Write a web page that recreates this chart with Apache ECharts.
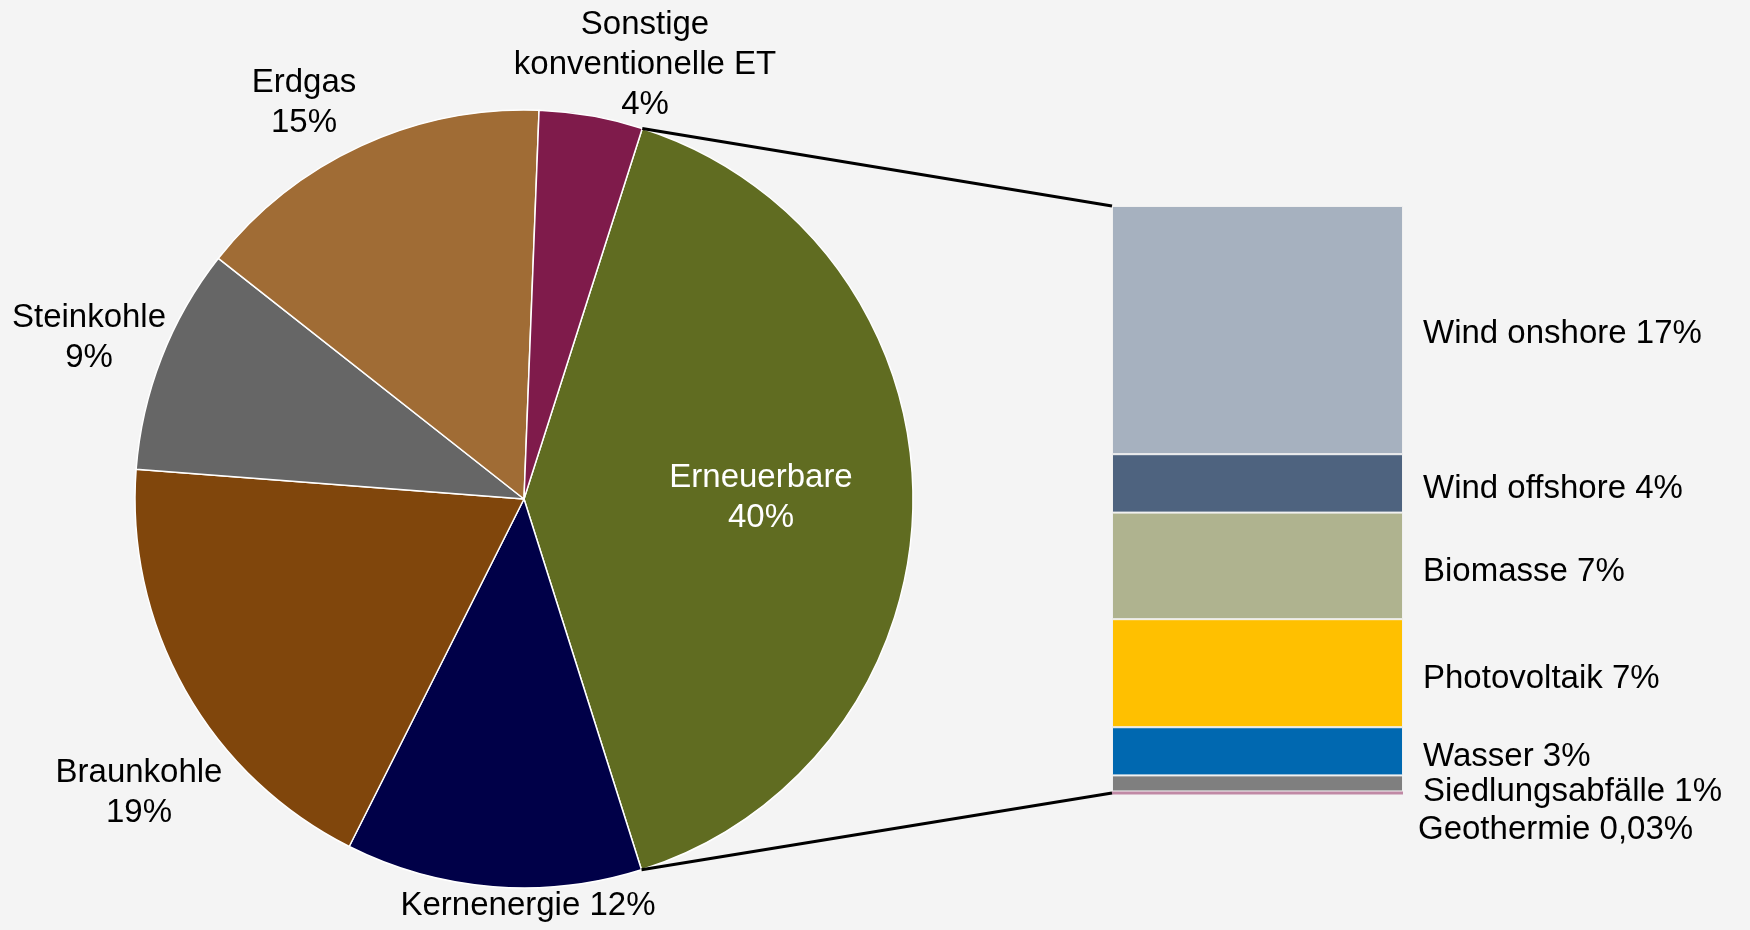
<!DOCTYPE html>
<html>
<head>
<meta charset="utf-8">
<script src="https://cdn.jsdelivr.net/npm/echarts@6/dist/echarts.min.js"></script>
<style>
html, body { margin: 0; padding: 0; background: #f4f4f4; }
#main { width: 1750px; height: 930px; }
</style>
</head>
<body>
<div id="main"></div>
<script>
// Stromerzeugung: Anteile
const pieNames = ['Erneuerbare', 'Kernenergie', 'Braunkohle', 'Steinkohle', 'Erdgas', 'Sonstige\nkonventionelle ET'];
const pieValues = [40.2, 12.3, 18.8, 9.4, 15.0, 4.3];
const pieColors = ['#606c21', '#000048', '#80460c', '#666666', '#a06c35', '#7f1b4b'];

// Aufteilung der Erneuerbaren
const eeNames = ['Wind onshore', 'Wind offshore', 'Biomasse', 'Photovoltaik', 'Wasser', 'Siedlungsabfälle', 'Geothermie'];
const eeValues = [17.0, 4.0, 7.3, 7.4, 3.3, 1.1, 0.03];
const eeColors = ['#a6b1bf', '#4e637f', '#afb38f', '#ffc000', '#0068b0', '#7f7f7f', '#c089a5'];

const chart = echarts.init(document.getElementById('main'));
const font = "'Liberation Sans', Arial, sans-serif";

const pieCenter = [524, 499], pieRadius = 389, pieStart = 72.3;
const barLeft = 1112, barWidth = 291, barTop = 206, pxPerPct = 14.6;
const eeTotal = eeValues.reduce((a, b) => a + b, 0);

// Label spots for the pie (layout only)
const pieLabelSpots = {
    'Erneuerbare': [761, 498],
    'Kernenergie': [528, 906],
    'Braunkohle': [139, 793],
    'Steinkohle': [89, 338],
    'Erdgas': [304, 103],
    'Sonstige\nkonventionelle ET': [645, 65]
};
const barLabelOffsets = {'Wind onshore': 4, 'Siedlungsabfälle': 8, 'Geothermie': 37};

function pct(v) {
    return v >= 0.5 ? Math.round(v) + '%' : String(v).replace('.', ',') + '%';
}

const barSeries = eeNames.map((name, i) => {
    const last = i === eeNames.length - 1;
    return {
        name: name,
        type: 'bar',
        stack: 'ee',
        barWidth: '100%',
        clip: false,
        barMinHeight: last ? 3 : 0,
        data: [eeValues[i]],
        itemStyle: {color: eeColors[i], borderColor: '#f0f0f0', borderWidth: last ? 0 : 1},
        label: {
            show: true,
            position: 'right',
            distance: last ? 15 : 20,
            offset: [0, barLabelOffsets[name] !== undefined ? barLabelOffsets[name] : 6],
            color: '#000',
            fontFamily: font,
            fontSize: 33,
            formatter: () => name + ' ' + pct(eeValues[i])
        },
        silent: true
    };
});

const option = {
    backgroundColor: '#f4f4f4',
    animation: false,
    grid: {left: barLeft, width: barWidth, top: barTop, height: eeTotal * pxPerPct},
    xAxis: {type: 'category', data: ['Erneuerbare'], show: false},
    yAxis: {type: 'value', inverse: true, min: 0, max: eeTotal, show: false},
    series: [{
        type: 'pie',
        center: pieCenter,
        radius: pieRadius,
        startAngle: pieStart,
        silent: true,
        itemStyle: {borderColor: '#ffffff', borderWidth: 1.5},
        label: {
            show: true,
            position: 'inside',
            color: '#000',
            fontFamily: font,
            fontSize: 33,
            lineHeight: 40,
            align: 'center',
            formatter: p => p.name + (p.name === 'Kernenergie' ? ' ' : '\n') + pct(p.value)
        },
        labelLine: {show: false},
        labelLayout: p => {
            const s = pieLabelSpots[pieNames[p.dataIndex]];
            return {x: s[0], y: s[1], align: 'center', verticalAlign: 'middle'};
        },
        data: pieNames.map((n, i) => ({
            name: n,
            value: pieValues[i],
            itemStyle: {color: pieColors[i]},
            label: i === 0 ? {color: '#fff'} : {}
        }))
    }].concat(barSeries)
};

chart.setOption(option);

// Verbindungslinien: Kanten des Erneuerbaren-Segments -> Balken
const pieSum = pieValues.reduce((a, b) => a + b, 0);
const a0 = pieStart * Math.PI / 180;
const a1 = (pieStart - 360 * pieValues[0] / pieSum) * Math.PI / 180;
const p0 = [pieCenter[0] + pieRadius * Math.cos(a0), pieCenter[1] - pieRadius * Math.sin(a0)];
const p1 = [pieCenter[0] + pieRadius * Math.cos(a1), pieCenter[1] - pieRadius * Math.sin(a1)];
const yTop = chart.convertToPixel({yAxisIndex: 0}, 0);
const yBottom = chart.convertToPixel({yAxisIndex: 0}, eeTotal) + 1;

chart.setOption({
    graphic: [
        {type: 'line', z: 10, shape: {x1: p0[0], y1: p0[1], x2: barLeft, y2: yTop}, style: {stroke: '#000', lineWidth: 3}},
        {type: 'line', z: 10, shape: {x1: p1[0], y1: p1[1], x2: barLeft, y2: yBottom}, style: {stroke: '#000', lineWidth: 3}}
    ]
});
</script>
</body>
</html>
